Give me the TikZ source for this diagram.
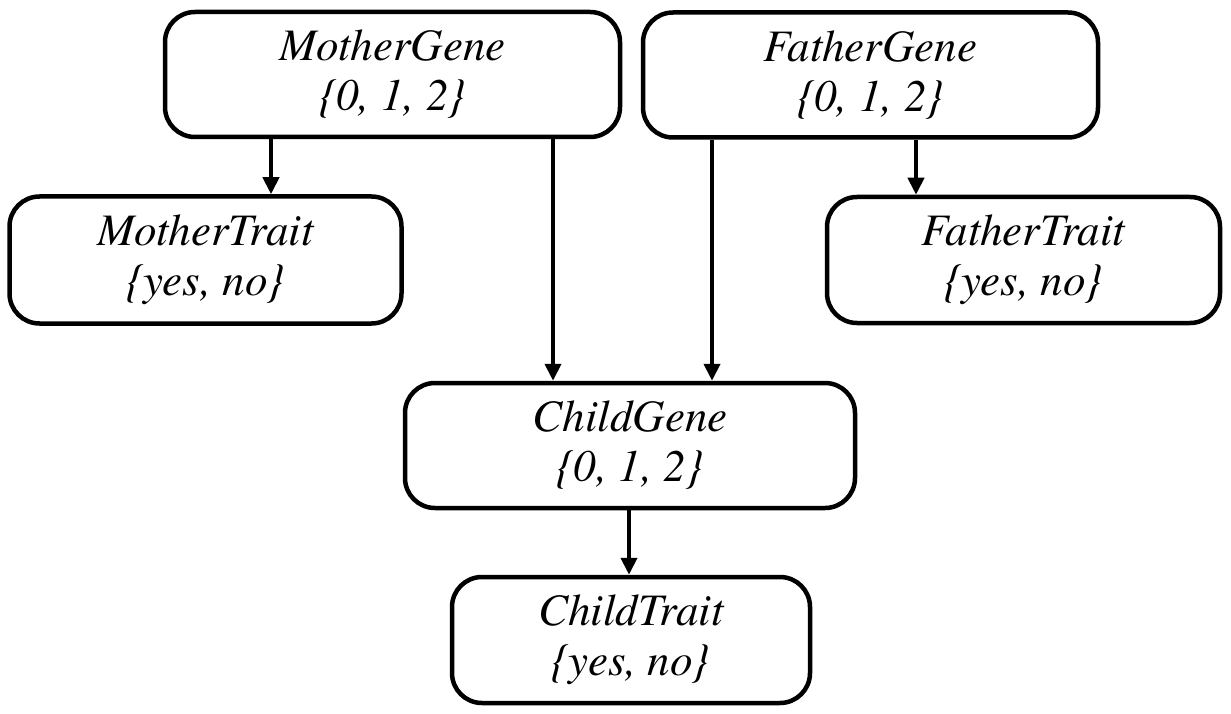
\documentclass[tikz,border=0pt]{standalone}
\usepackage{fontspec}
\newfontfamily\tmsit{texgyretermes-italic.otf}
\usetikzlibrary{arrows.meta}
\begin{document}
\begin{tikzpicture}[x=1pt,y=-1pt,
  varbox/.style={draw=black, line width=4.5pt, rounded corners=30pt, fill=white,
    inner sep=0pt, align=center, font=\tmsit\fontsize{45}{50}\selectfont},
  arr/.style={line width=4pt, -{Triangle[length=17pt,width=16pt]}}]
\useasboundingbox[fill=white] (0,0) rectangle (1231,714);
\node[varbox, minimum width=455pt, minimum height=125pt] (MG) at (392.5,74.5) {MotherGene\\\{0, 1, 2\}};
\node[varbox, minimum width=455pt, minimum height=125pt] (FG) at (870.5,75) {FatherGene\\\{0, 1, 2\}};
\node[varbox, minimum width=392pt, minimum height=127pt] (MT) at (205.5,260) {MotherTrait\\\{yes, no\}};
\node[varbox, minimum width=393pt, minimum height=126pt] (FT) at (1023.5,260) {FatherTrait\\\{yes, no\}};
\node[varbox, minimum width=450pt, minimum height=125pt] (CG) at (630,445.5) {ChildGene\\\{0, 1, 2\}};
\node[varbox, minimum width=358pt, minimum height=126pt] (CT) at (631,640) {ChildTrait\\\{yes, no\}};
\coordinate (xa) at (271,0);
\coordinate (xb) at (553,0);
\coordinate (xc) at (712,0);
\coordinate (xd) at (916,0);
\coordinate (xe) at (629,0);
\draw[arr] (MG.south -| xa) -- (MT.north -| xa);
\draw[arr] (MG.south -| xb) -- (CG.north -| xb);
\draw[arr] (FG.south -| xc) -- (CG.north -| xc);
\draw[arr] (FG.south -| xd) -- (FT.north -| xd);
\draw[arr] (CG.south -| xe) -- (CT.north -| xe);
\end{tikzpicture}
\end{document}
